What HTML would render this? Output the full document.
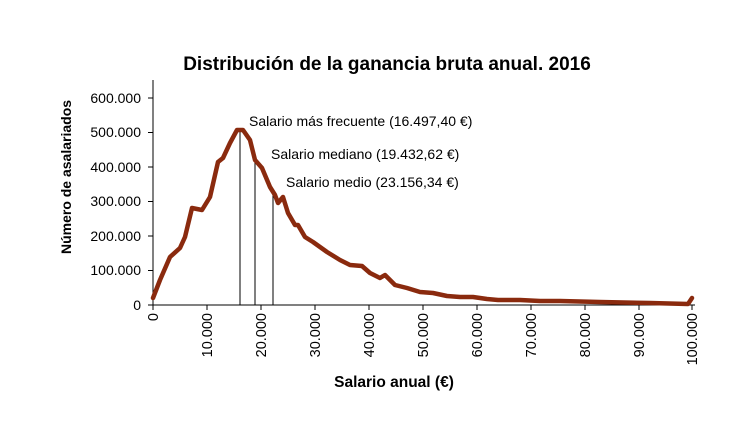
<!DOCTYPE html>
<html><head><meta charset="utf-8"><style>body{margin:0;background:#fff}</style></head><body>
<svg width="749" height="421" xmlns="http://www.w3.org/2000/svg" font-family="Liberation Sans, Arial, sans-serif">
<text x="387" y="70" text-anchor="middle" font-size="19" font-weight="bold">Distribución de la ganancia bruta anual. 2016</text>
<text transform="translate(71,177) rotate(-90)" text-anchor="middle" font-size="14" font-weight="bold">Número de asalariados</text>
<text x="394" y="387" text-anchor="middle" font-size="15.5" font-weight="bold">Salario anual (€)</text>
<g stroke="#000" stroke-width="1" fill="none">
<line x1="153" y1="80" x2="153" y2="305"/>
<line x1="153" y1="305" x2="695" y2="305"/>
<line x1="148" y1="305" x2="153" y2="305"/><line x1="148" y1="270.5" x2="153" y2="270.5"/><line x1="148" y1="236" x2="153" y2="236"/><line x1="148" y1="201.5" x2="153" y2="201.5"/><line x1="148" y1="167" x2="153" y2="167"/><line x1="148" y1="132.5" x2="153" y2="132.5"/><line x1="148" y1="98" x2="153" y2="98"/>
<path d="M153 305v5M207 305v5M261 305v5M315 305v5M369 305v5M423 305v5M477 305v5M531 305v5M585 305v5M639 305v5M692 305v5"/>
<line x1="240" y1="305" x2="240" y2="130"/>
<line x1="255" y1="305" x2="255" y2="160"/>
<line x1="273" y1="305" x2="273" y2="193"/>
</g>
<g font-size="14" text-anchor="end">
<text x="141" y="310">0</text><text x="141" y="275">100.000</text><text x="141" y="241">200.000</text><text x="141" y="206">300.000</text><text x="141" y="172">400.000</text><text x="141" y="137">500.000</text><text x="141" y="103">600.000</text>
</g>
<g font-size="14.5" text-anchor="end">
<text transform="translate(158,313) rotate(-90)">0</text>
<text transform="translate(212,313) rotate(-90)">10.000</text>
<text transform="translate(266,313) rotate(-90)">20.000</text>
<text transform="translate(320,313) rotate(-90)">30.000</text>
<text transform="translate(374,313) rotate(-90)">40.000</text>
<text transform="translate(428,313) rotate(-90)">50.000</text>
<text transform="translate(482,313) rotate(-90)">60.000</text>
<text transform="translate(536,313) rotate(-90)">70.000</text>
<text transform="translate(590,313) rotate(-90)">80.000</text>
<text transform="translate(644,313) rotate(-90)">90.000</text>
<text transform="translate(697,313) rotate(-90)">100.000</text>
</g>
<polyline fill="none" stroke="#8a2a0e" stroke-width="4.5" stroke-linejoin="round" stroke-linecap="round" points="153,298 160,280 170,257 180,248 185,237 192,208 202,210 210,197 218,162 223,158 230,143 237,130 243,130 250,140 255,160 262,168 270,187 275,195 278,203 283,197 288,213 295,225 298,225 305,237 313,242 327,252 340,260 350,265 362,266 370,273 380,278 385,275 395,285 407,288 420,292 433,293 447,296 460,297 473,297 487,299 498,300 520,300 540,301 560,301 600,302 650,303 688,304 692,298"/>
<g font-size="14">
<text x="249" y="126">Salario más frecuente (16.497,40 €)</text>
<text x="271" y="159">Salario mediano (19.432,62 €)</text>
<text x="286" y="187">Salario medio (23.156,34 €)</text>
</g>
</svg>
</body></html>
